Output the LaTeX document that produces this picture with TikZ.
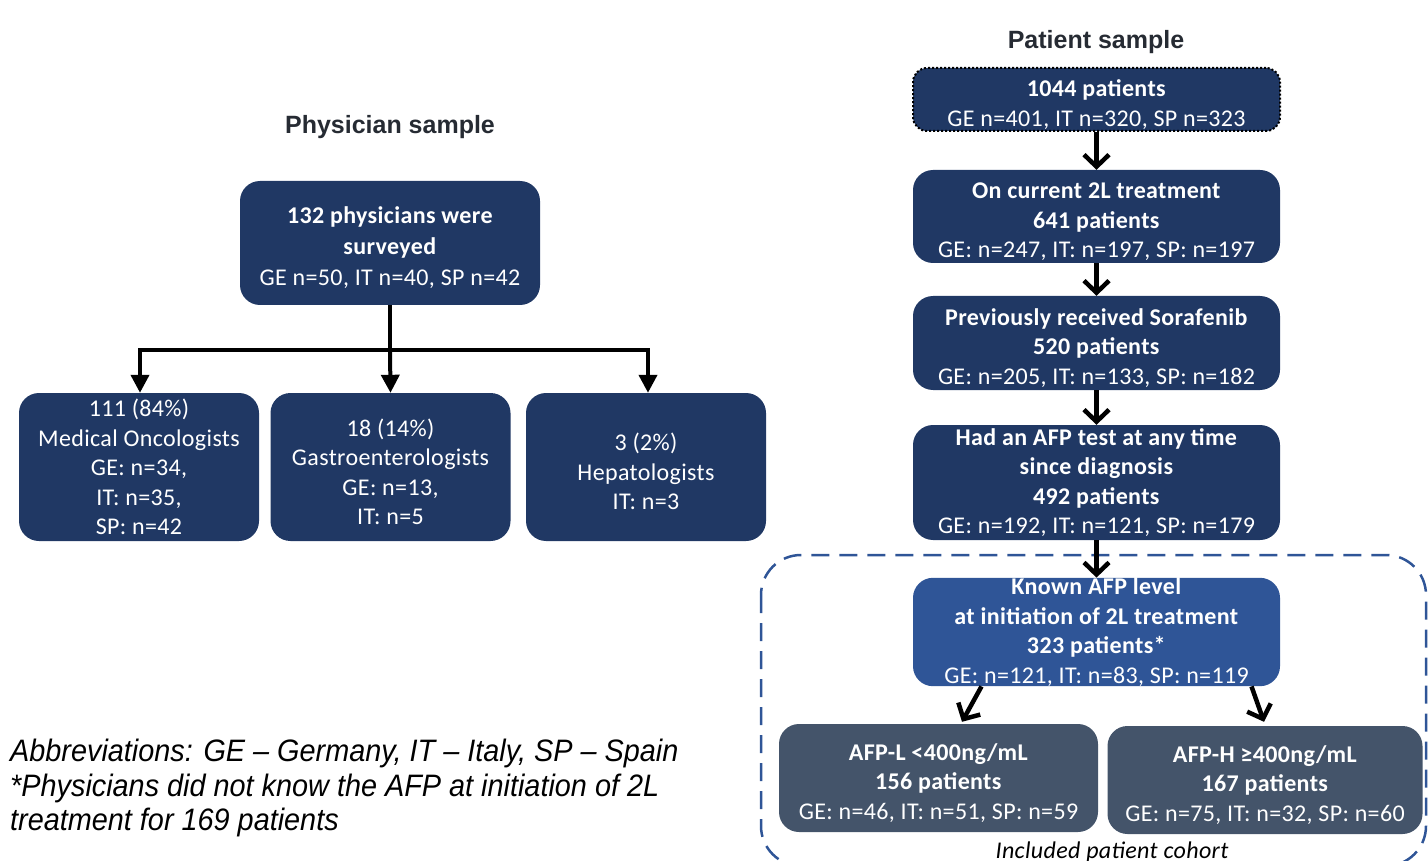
\documentclass[tikz,border=0pt]{standalone}
\usepackage{fontspec}
\setmainfont[LetterSpace=1.5]{Carlito}
\newfontfamily\arialf{Liberation Sans}
\newfontfamily\arialn[FakeStretch=0.93]{Liberation Sans}
\usetikzlibrary{arrows.meta}
\definecolor{navy}{HTML}{203864}
\definecolor{midblue}{HTML}{2F5597}
\definecolor{slate}{HTML}{44546A}
\definecolor{titlec}{HTML}{262B33}
\newcommand\liftup{\rule{0pt}{27pt}}
\tikzset{
  box/.style={fill=navy, rounded corners=20pt, text=white, align=center, inner sep=0pt,
    font=\fontsize{24}{29.5}\selectfont},
  rbox/.style={box, minimum width=367pt},
  title/.style={font=\arialf\bfseries\fontsize{25}{29}\selectfont, text=titlec},
  tri/.style={line width=4pt, -{Triangle[length=18pt,width=18pt]}},
  barb/.style={line width=4.5pt, -{Straight Barb[length=12pt,width=25pt]}},
  plain/.style={line width=4pt},
}
\begin{document}
\begin{tikzpicture}[x=1pt,y=-1pt]
\useasboundingbox (0,0) rectangle (1428,861);
\clip (0,0) rectangle (1428,861);
% ---------- physician sample ----------
\node[title] (ptitle) at (390,127) {Physician sample};
\node[box, minimum width=300pt, minimum height=124pt, font=\fontsize{24}{31}\selectfont] (top) at (390,243)
  {\liftup\textbf{132 physicians were}\\\textbf{surveyed}\\GE n=50, IT n=40, SP n=42};
\node[box, minimum width=240pt, minimum height=148pt] (b1) at (139,467)
  {111 (84\%)\\Medical Oncologists\\GE: n=34,\\IT: n=35,\\SP: n=42};
\node[box, minimum width=240pt, minimum height=148pt] (b2) at (390.5,467)
  {\liftup 18 (14\%)\\Gastroenterologists\\GE: n=13,\\IT: n=5};
\node[box, minimum width=240pt, minimum height=148pt] (b3) at (646,467)
  {\liftup 3 (2\%)\\Hepatologists\\IT: n=3};
\coordinate (j) at (390,350);
\coordinate (jl) at (140,350);
\coordinate (jr) at (648,350);
\draw[plain] (top.south) -- (j);
\draw[plain, line cap=rect] (jl) -- (jr);
\draw[tri] (jl) -- (jl |- b1.north);
\draw[tri] (j) -- (b2.north);
\draw[tri] (jr) -- (jr |- b3.north);
% ---------- patient sample ----------
\node[title] (pattitle) at (1096,42) {Patient sample};
\node[rbox, minimum height=63pt, draw=black, line width=2pt, dotted, rounded corners=14pt] (A) at (1096.5,99.5)
  {\liftup\textbf{1044 patients}\\GE n=401, IT n=320, SP n=323};
\node[rbox, minimum height=93pt] (B) at (1096.5,216.5)
  {\liftup\textbf{On current 2L treatment}\\\textbf{641 patients}\\GE: n=247, IT: n=197, SP: n=197};
\node[rbox, minimum height=94pt] (C) at (1096.5,343)
  {\liftup\textbf{Previously received Sorafenib}\\\textbf{520 patients}\\GE: n=205, IT: n=133, SP: n=182};
\node[rbox, minimum height=115pt] (D) at (1096.5,482.5)
  {\textbf{Had an AFP test at any time}\\\textbf{since diagnosis}\\\textbf{492 patients}\\GE: n=192, IT: n=121, SP: n=179};
% dashed cohort frame
\draw[midblue, line width=2.5pt, dash pattern=on 18pt off 10pt, rounded corners=40pt]
  (761,555) rectangle (1426,866);
\node[rbox, fill=midblue, minimum height=108pt] (E) at (1096.5,632)
  {\textbf{Known AFP level}\\\textbf{at initiation of 2L treatment}\\\textbf{323 patients*}\\GE: n=121, IT: n=83, SP: n=119};
\node[box, fill=slate, minimum width=319pt, minimum height=108pt] (F) at (938.5,778)
  {\liftup\textbf{AFP-L <400ng/mL}\\\textbf{156 patients}\\GE: n=46, IT: n=51, SP: n=59};
\node[box, fill=slate, minimum width=315pt, minimum height=108pt] (G) at (1265,780)
  {\liftup\textbf{AFP-H ≥400ng/mL}\\\textbf{167 patients}\\GE: n=75, IT: n=32, SP: n=60};
\node[font=\itshape\fontsize{24}{28}\selectfont, anchor=base] (coh) at (1112,858) {Included patient cohort};
\draw[barb] (A) -- (B);
\draw[barb] (B) -- (C);
\draw[barb] (C) -- (D);
\draw[barb] (D) -- (E);
\draw[barb] ([xshift=-115pt]E.south) -- ([xshift=23.5pt,yshift=2pt]F.north);
\draw[barb] ([xshift=155pt]E.south) -- ([xshift=-1pt,yshift=4pt]G.north);
% ---------- footnote ----------
\node[font=\arialn\itshape\fontsize{31}{34.5}\selectfont, align=left, anchor=north west, inner sep=0pt] (abbr) at (10,739)
  {Abbreviations: GE – Germany, IT – Italy, SP – Spain\\*Physicians did not know the AFP at initiation of 2L\\treatment for 169 patients};
\end{tikzpicture}
\end{document}
